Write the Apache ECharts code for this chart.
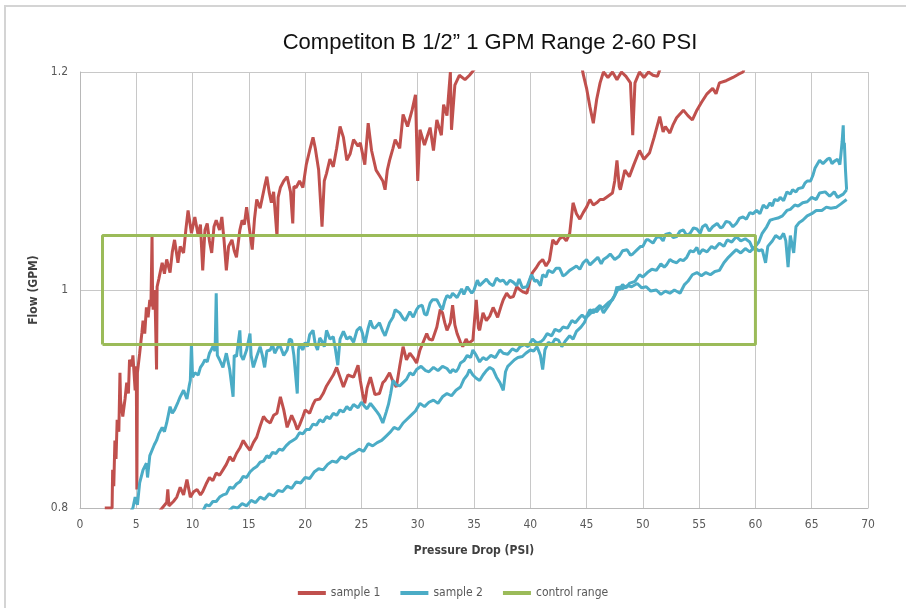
<!DOCTYPE html>
<html><head><meta charset="utf-8">
<script src="https://cdn.jsdelivr.net/npm/echarts@6/dist/echarts.min.js"></script>
<style>html,body{margin:0;padding:0;background:#fff}#c{width:906px;height:608px}</style>
</head><body><div id="c"></div>
<script>
const titleText = 'Competiton B 1/2\u201d 1 GPM Range 2-60 PSI';
const xName = 'Pressure Drop (PSI)';
const yName = 'Flow (GPM)';
const legendNames = ['sample 1', 'sample 2', 'control range'];
const xTicks = [0, 5, 10, 15, 20, 25, 30, 35, 40, 45, 50, 55, 60, 65, 70];
const yTicks = [0.8, 1, 1.2];

// sample 1, first (upper) pass – goes off the top of the chart and returns briefly
const s1Upper = [[2.2,0.8],[2.85,0.8],[2.9,0.835],[3.0,0.82],[3.1,0.862],[3.2,0.845],[3.3,0.881],[3.45,0.87],[3.55,0.924],[3.6,0.899],[3.8,0.884],[4.0,0.9],[4.15,0.915],[4.3,0.905],[4.4,0.936],[4.6,0.93],[4.7,0.94],[4.9,0.908],[5.0,0.93],[5.05,0.817],[5.1,0.924],[5.3,0.942],[5.5,0.961],[5.6,0.972],[5.75,0.96],[5.9,0.984],[6.05,0.975],[6.2,0.991],[6.3,0.985],[6.4,1.05],[6.45,0.99],[6.5,0.982],[6.65,1.0],[6.8,0.927],[6.85,1.003],[7.0,1.01],[7.3,1.025],[7.5,1.015],[7.7,1.028],[8.0,1.016],[8.2,1.035],[8.4,1.046],[8.7,1.025],[8.9,1.04],[9.2,1.034],[9.4,1.055],[9.6,1.073],[9.9,1.052],[10.2,1.067],[10.5,1.05],[10.7,1.06],[10.9,1.018],[11.1,1.055],[11.3,1.061],[11.5,1.045],[11.7,1.034],[11.9,1.058],[12.1,1.064],[12.4,1.055],[12.6,1.067],[12.8,1.045],[13.0,1.018],[13.2,1.04],[13.5,1.046],[13.7,1.036],[13.9,1.03],[14.2,1.055],[14.4,1.064],[14.6,1.06],[14.8,1.076],[15.0,1.06],[15.3,1.037],[15.5,1.065],[15.7,1.083],[16.0,1.075],[16.2,1.085],[16.4,1.095],[16.6,1.104],[16.8,1.09],[17.0,1.08],[17.2,1.09],[17.5,1.049],[17.6,1.085],[17.8,1.094],[18.1,1.1],[18.4,1.104],[18.7,1.09],[18.9,1.061],[19.0,1.095],[19.2,1.094],[19.5,1.1],[19.8,1.094],[20.1,1.115],[20.4,1.128],[20.7,1.14],[20.9,1.13],[21.2,1.11],[21.5,1.058],[21.7,1.1],[21.9,1.107],[22.2,1.12],[22.5,1.113],[22.8,1.13],[23.1,1.15],[23.4,1.14],[23.7,1.119],[24.0,1.125],[24.3,1.138],[24.7,1.132],[24.9,1.135],[25.3,1.115],[25.6,1.153],[25.9,1.128],[26.3,1.11],[26.6,1.105],[26.9,1.1],[27.1,1.092],[27.3,1.11],[27.5,1.119],[27.8,1.13],[28.0,1.138],[28.4,1.13],[28.7,1.161],[29.1,1.15],[29.5,1.165],[29.8,1.179],[30.0,1.1],[30.2,1.147],[30.6,1.133],[31.1,1.149],[31.4,1.128],[31.7,1.156],[32.1,1.142],[32.3,1.17],[32.6,1.16],[32.9,1.2],[33.0,1.147],[33.3,1.188],[33.7,1.197],[34.2,1.193],[34.6,1.197],[35.0,1.202],[35.3,1.21],[37,1.24],[40,1.27],[43,1.25],[44.4,1.215],[44.7,1.198],[45.0,1.185],[45.3,1.168],[45.6,1.153],[45.9,1.175],[46.2,1.19],[46.5,1.2],[46.9,1.195],[47.3,1.2],[47.7,1.193],[48.1,1.2],[48.5,1.196],[48.9,1.19],[49.1,1.142],[49.3,1.19],[49.7,1.2],[50.1,1.195],[50.5,1.2],[50.9,1.197],[51.3,1.196],[51.6,1.205],[52.5,1.23]];

// sample 1, second (lower) pass
const s1Lower = [[6.9,0.795],[7.3,0.8],[7.7,0.805],[7.8,0.817],[7.9,0.802],[8.3,0.806],[8.6,0.81],[8.9,0.819],[9.2,0.812],[9.5,0.826],[9.8,0.81],[10.1,0.815],[10.4,0.817],[10.7,0.812],[10.9,0.815],[11.2,0.822],[11.5,0.828],[11.8,0.825],[12.1,0.832],[12.4,0.83],[12.7,0.835],[13.0,0.84],[13.3,0.847],[13.6,0.843],[13.9,0.85],[14.2,0.855],[14.5,0.862],[14.8,0.857],[15.1,0.853],[15.4,0.86],[15.7,0.865],[16.0,0.875],[16.3,0.884],[16.6,0.88],[16.9,0.878],[17.2,0.885],[17.5,0.887],[17.8,0.902],[18.1,0.89],[18.4,0.874],[18.8,0.885],[19.1,0.878],[19.3,0.872],[19.5,0.876],[19.8,0.884],[20.0,0.89],[20.4,0.887],[20.7,0.895],[20.9,0.899],[21.3,0.9],[21.6,0.905],[21.9,0.912],[22.2,0.917],[22.5,0.922],[22.8,0.929],[23.1,0.92],[23.4,0.911],[23.8,0.922],[24.3,0.92],[24.7,0.931],[24.9,0.917],[25.1,0.905],[25.3,0.896],[25.5,0.91],[25.8,0.92],[26.2,0.904],[26.6,0.905],[26.9,0.915],[27.1,0.917],[27.5,0.924],[27.8,0.916],[28.1,0.911],[28.4,0.93],[28.7,0.948],[29.0,0.936],[29.3,0.942],[29.6,0.938],[29.9,0.933],[30.2,0.945],[30.4,0.95],[30.8,0.96],[31.0,0.955],[31.3,0.954],[31.7,0.966],[32.0,0.982],[32.2,0.979],[32.4,0.97],[32.6,0.963],[32.9,0.97],[33.1,0.986],[33.3,0.968],[33.5,0.96],[33.8,0.952],[34.0,0.948],[34.3,0.955],[34.5,0.951],[34.9,0.954],[35.2,0.991],[35.4,0.965],[35.5,0.963],[35.8,0.979],[36.1,0.972],[36.4,0.976],[36.7,0.984],[37.1,0.975],[37.4,0.985],[37.6,0.991],[37.9,0.997],[38.2,0.993],[38.5,0.994],[38.8,1.003],[39.1,1.0],[39.4,0.998],[39.7,0.997],[40.0,1.01],[40.2,1.016],[40.5,1.02],[40.8,1.025],[41.1,1.028],[41.4,1.022],[41.7,1.027],[42.0,1.046],[42.3,1.042],[42.6,1.047],[42.9,1.049],[43.2,1.045],[43.5,1.052],[43.8,1.08],[44.1,1.07],[44.4,1.065],[44.7,1.071],[45.0,1.076],[45.3,1.083],[45.6,1.078],[45.9,1.08],[46.2,1.083],[46.5,1.083],[46.9,1.086],[47.3,1.089],[47.5,1.1],[47.7,1.119],[47.9,1.095],[48.0,1.092],[48.4,1.11],[48.8,1.104],[49.2,1.115],[49.7,1.128],[50.1,1.12],[50.6,1.126],[51.0,1.14],[51.5,1.159],[51.8,1.145],[52.0,1.15],[52.4,1.144],[52.7,1.152],[53.0,1.158],[53.6,1.165],[54.0,1.16],[54.4,1.156],[54.8,1.165],[55.2,1.172],[55.7,1.18],[56.2,1.185],[56.5,1.18],[56.8,1.19],[57.4,1.192],[58.0,1.195],[58.5,1.198],[58.9,1.2],[59.4,1.215]];

// sample 2, rising pass from 5 PSI to 68 PSI
const s2Up = [[4.4,0.795],[4.7,0.8],[4.9,0.81],[5.1,0.803],[5.3,0.823],[5.6,0.835],[5.9,0.841],[6.0,0.828],[6.2,0.848],[6.4,0.853],[6.6,0.858],[6.8,0.862],[7.0,0.868],[7.3,0.874],[7.5,0.87],[7.7,0.878],[8.0,0.893],[8.2,0.887],[8.4,0.89],[8.7,0.897],[8.9,0.902],[9.2,0.908],[9.5,0.9],[9.7,0.912],[9.8,0.917],[9.9,0.951],[10.0,0.92],[10.2,0.924],[10.5,0.922],[10.7,0.929],[10.9,0.932],[11.1,0.936],[11.3,0.934],[11.5,0.942],[11.8,0.948],[12.0,0.944],[12.1,0.997],[12.2,0.94],[12.4,0.936],[12.7,0.929],[13.0,0.942],[13.3,0.927],[13.6,0.902],[13.7,0.94],[13.9,0.939],[14.2,0.963],[14.3,0.94],[14.5,0.936],[14.8,0.945],[15.1,0.96],[15.2,0.94],[15.4,0.929],[15.7,0.939],[16.0,0.948],[16.2,0.94],[16.4,0.929],[16.6,0.944],[16.9,0.945],[17.1,0.95],[17.3,0.942],[17.6,0.948],[17.8,0.948],[18.1,0.94],[18.4,0.945],[18.6,0.955],[18.8,0.954],[19.0,0.94],[19.3,0.905],[19.4,0.945],[19.5,0.95],[19.8,0.945],[20.0,0.952],[20.2,0.948],[20.4,0.959],[20.7,0.963],[20.9,0.95],[21.1,0.945],[21.3,0.956],[21.5,0.953],[21.7,0.948],[21.9,0.963],[22.2,0.955],[22.5,0.957],[22.7,0.945],[22.9,0.931],[23.1,0.955],[23.4,0.962],[23.7,0.955],[24.0,0.957],[24.3,0.952],[24.6,0.963],[24.9,0.966],[25.1,0.96],[25.3,0.95],[25.6,0.965],[25.8,0.972],[26.0,0.966],[26.2,0.965],[26.6,0.97],[26.9,0.962],[27.1,0.958],[27.5,0.97],[27.8,0.975],[28.0,0.982],[28.4,0.979],[28.7,0.974],[28.9,0.972],[29.3,0.98],[29.6,0.975],[29.9,0.982],[30.1,0.985],[30.4,0.986],[30.6,0.978],[30.8,0.977],[31.1,0.988],[31.3,0.991],[31.7,0.991],[32.0,0.985],[32.2,0.982],[32.4,0.99],[32.6,0.995],[32.9,0.993],[33.1,0.997],[33.5,0.993],[33.9,1.001],[34.1,0.996],[34.4,1.003],[34.8,0.997],[35.0,1.0],[35.3,1.009],[35.5,1.004],[35.8,1.007],[36.1,1.01],[36.4,1.006],[36.7,1.004],[37.0,1.011],[37.3,1.008],[37.6,1.009],[37.9,1.005],[38.2,1.009],[38.5,1.007],[38.8,1.004],[39.0,1.01],[39.3,1.002],[39.7,1.003],[40.1,1.014],[40.4,1.008],[40.6,1.009],[40.9,1.004],[41.1,1.014],[41.4,1.012],[41.6,1.018],[42.0,1.016],[42.3,1.02],[42.6,1.02],[42.9,1.013],[43.1,1.014],[43.5,1.018],[43.8,1.02],[44.1,1.022],[44.4,1.019],[44.7,1.025],[45.0,1.028],[45.3,1.023],[45.6,1.026],[46.0,1.03],[46.3,1.024],[46.5,1.028],[46.8,1.03],[47.1,1.033],[47.5,1.028],[47.9,1.031],[48.2,1.036],[48.6,1.037],[48.9,1.032],[49.1,1.033],[49.5,1.037],[49.8,1.04],[50.0,1.04],[50.3,1.046],[50.5,1.046],[50.9,1.043],[51.2,1.048],[51.5,1.049],[51.8,1.045],[52.0,1.051],[52.4,1.052],[52.7,1.048],[53.0,1.049],[53.3,1.054],[53.6,1.055],[53.9,1.05],[54.2,1.052],[54.5,1.057],[54.8,1.056],[55.1,1.052],[55.3,1.058],[55.6,1.06],[55.9,1.054],[56.2,1.058],[56.6,1.061],[56.9,1.057],[57.1,1.058],[57.4,1.063],[57.7,1.062],[58.0,1.058],[58.3,1.061],[58.6,1.066],[58.9,1.067],[59.2,1.065],[59.5,1.071],[59.8,1.07],[60.1,1.073],[60.4,1.07],[60.7,1.078],[61.0,1.075],[61.3,1.08],[61.5,1.077],[61.7,1.083],[62.0,1.082],[62.2,1.085],[62.5,1.082],[62.8,1.09],[63.1,1.088],[63.3,1.092],[63.6,1.09],[63.8,1.093],[64.2,1.094],[64.4,1.098],[64.6,1.1],[64.9,1.1],[65.1,1.105],[65.3,1.112],[65.4,1.113],[65.7,1.119],[66.0,1.116],[66.2,1.118],[66.4,1.12],[66.6,1.121],[66.8,1.116],[67.0,1.118],[67.3,1.12],[67.5,1.115],[67.6,1.125],[67.7,1.136],[67.8,1.151],[67.85,1.13],[67.9,1.135],[68.0,1.11],[68.1,1.092]];

// sample 2, falling pass back from 68 PSI
const s2Down = [[68.1,1.092],[67.8,1.088],[67.3,1.085],[67.0,1.09],[66.6,1.086],[66.2,1.09],[65.7,1.089],[65.4,1.083],[65.0,1.085],[64.6,1.081],[64.2,1.08],[63.8,1.077],[63.5,1.078],[63.1,1.074],[62.8,1.073],[62.4,1.068],[62.0,1.066],[61.6,1.065],[61.3,1.064],[61.0,1.058],[60.6,1.052],[60.3,1.044],[60.0,1.04],[59.8,1.037],[59.5,1.044],[59.1,1.047],[58.7,1.045],[58.3,1.049],[57.9,1.044],[57.5,1.046],[57.2,1.04],[56.8,1.043],[56.4,1.038],[56.1,1.04],[55.7,1.035],[55.3,1.037],[55.0,1.033],[54.8,1.039],[54.5,1.035],[54.2,1.036],[53.9,1.03],[53.6,1.027],[53.3,1.028],[53.0,1.025],[52.7,1.026],[52.4,1.028],[52.1,1.023],[51.9,1.021],[51.6,1.024],[51.2,1.018],[50.8,1.019],[50.4,1.016],[50.0,1.012],[49.7,1.014],[49.3,1.008],[48.8,1.006],[48.5,1.002],[48.2,1.005],[47.9,1.0],[47.7,1.003],[47.5,0.995],[47.2,0.99],[46.9,0.985],[46.5,0.979],[46.2,0.986],[45.9,0.983],[45.6,0.979],[45.3,0.982],[44.9,0.974],[44.6,0.977],[44.4,0.975],[44.0,0.97],[43.7,0.972],[43.3,0.965],[42.9,0.966],[42.6,0.962],[42.2,0.964],[41.9,0.958],[41.5,0.96],[41.2,0.955],[41.0,0.953],[40.6,0.951],[40.2,0.955],[39.8,0.948],[39.5,0.95],[39.1,0.948],[38.8,0.944],[38.4,0.946],[38.0,0.941],[37.6,0.942],[37.3,0.945],[36.9,0.938],[36.5,0.94],[36.1,0.936],[35.8,0.938],[35.5,0.934],[35.2,0.94],[34.9,0.945],[34.7,0.938],[34.4,0.94],[34.1,0.935],[33.8,0.933],[33.6,0.928],[33.4,0.925],[33.1,0.927],[32.9,0.924],[32.6,0.928],[32.2,0.93],[31.8,0.926],[31.4,0.929],[31.0,0.925],[30.7,0.926],[30.3,0.93],[29.9,0.927],[29.6,0.922],[29.3,0.924],[29.0,0.918],[28.7,0.915],[28.4,0.912],[28.1,0.913],[27.8,0.917],[27.6,0.905],[27.4,0.895],[27.2,0.888],[26.9,0.878],[26.6,0.885],[26.4,0.888],[26.1,0.892],[25.8,0.896],[25.5,0.891],[25.3,0.893],[25.0,0.897],[24.7,0.892],[24.3,0.895],[24.0,0.89],[23.7,0.893],[23.4,0.888],[23.1,0.89],[22.8,0.885],[22.5,0.887],[22.2,0.882],[21.9,0.884],[21.6,0.879],[21.3,0.881],[21.0,0.876],[20.7,0.877],[20.4,0.872],[20.1,0.872],[19.8,0.868],[19.5,0.869],[19.2,0.864],[18.9,0.862],[18.6,0.86],[18.3,0.857],[18.0,0.853],[17.7,0.854],[17.4,0.85],[17.1,0.851],[16.8,0.846],[16.6,0.848],[16.3,0.843],[16.0,0.842],[15.7,0.838],[15.4,0.836],[15.1,0.833],[14.8,0.828],[14.5,0.829],[14.2,0.824],[13.9,0.822],[13.6,0.818],[13.3,0.819],[13.0,0.813],[12.7,0.812],[12.4,0.81],[12.1,0.806],[11.8,0.806],[11.5,0.802],[11.2,0.803],[10.9,0.797]];

// sample 2, second rising pass (lowest on the left)
const s2Up2 = [[13.2,0.797],[13.6,0.801],[14.0,0.8],[14.4,0.804],[14.8,0.802],[15.2,0.807],[15.6,0.805],[16.0,0.81],[16.4,0.808],[16.8,0.813],[17.2,0.811],[17.6,0.816],[18.0,0.815],[18.4,0.82],[18.8,0.818],[19.2,0.824],[19.6,0.823],[20.0,0.828],[20.4,0.827],[20.8,0.833],[21.2,0.836],[21.6,0.835],[22.0,0.84],[22.4,0.843],[22.8,0.842],[23.2,0.847],[23.6,0.845],[24.0,0.849],[24.4,0.851],[24.8,0.854],[25.2,0.852],[25.6,0.859],[26.0,0.857],[26.4,0.86],[26.8,0.862],[27.2,0.866],[27.6,0.87],[27.9,0.874],[28.3,0.872],[28.7,0.878],[29.0,0.881],[29.4,0.885],[29.8,0.889],[30.2,0.896],[30.6,0.893],[31.0,0.897],[31.4,0.899],[31.8,0.896],[32.2,0.902],[32.6,0.905],[33.0,0.903],[33.4,0.908],[33.8,0.911],[34.1,0.918],[34.4,0.922],[34.6,0.927],[34.9,0.922],[35.2,0.919],[35.5,0.917],[35.8,0.922],[36.1,0.926],[36.4,0.929],[36.7,0.927],[37.0,0.92],[37.3,0.915],[37.6,0.908],[37.8,0.925],[38.0,0.93],[38.3,0.933],[38.6,0.936],[38.9,0.938],[39.3,0.939],[39.6,0.942],[40.0,0.945],[40.3,0.944],[40.6,0.948],[40.9,0.94],[41.1,0.927],[41.3,0.945],[41.6,0.952],[41.9,0.95],[42.2,0.955],[42.5,0.954],[42.8,0.948],[43.1,0.953],[43.5,0.958],[43.8,0.955],[44.1,0.962],[44.5,0.966],[44.8,0.97],[45.0,0.975],[45.3,0.978],[45.6,0.982],[45.9,0.98],[46.2,0.984],[46.5,0.984],[46.9,0.988],[47.3,0.991],[47.6,0.997],[47.9,1.003],[48.2,1.001],[48.6,1.004],[49.0,1.003],[49.5,1.006],[49.9,1.002],[50.3,1.003],[50.7,0.999],[51.2,1.0],[51.6,0.996],[52.0,0.999],[52.4,0.997],[52.8,1.0],[53.3,0.997],[53.7,1.005],[54.0,1.008],[54.4,1.014],[54.8,1.016],[55.2,1.013],[55.6,1.016],[56.0,1.014],[56.4,1.017],[56.8,1.018],[57.2,1.025],[57.6,1.03],[58.0,1.034],[58.3,1.037],[58.7,1.034],[59.1,1.038],[59.5,1.035],[59.9,1.039],[60.3,1.036],[60.6,1.037],[60.9,1.025],[61.1,1.04],[61.5,1.045],[61.8,1.05],[62.2,1.047],[62.5,1.052],[62.7,1.045],[62.9,1.021],[63.1,1.05],[63.4,1.034],[63.6,1.058],[63.9,1.062],[64.2,1.064],[64.6,1.068],[65.0,1.07],[65.4,1.073],[65.9,1.073],[66.3,1.076],[66.7,1.075],[67.2,1.076],[67.6,1.079],[68.1,1.083]];

// control range rectangle: 2–60 PSI, 0.95–1.05 GPM
const controlRange = [[2,0.95],[2,1.05],[60,1.05],[60,0.95],[2,0.95]];

const RED = '#C0504D', BLUE = '#4BACC6', GREEN = '#9BBB59';
const labelFont = "'Liberation Sans Narrow','DejaVu Sans Condensed','Roboto',sans-serif";

function lineSeries(name, data, color, z) {
  return { name: name, type: 'line', data: data, showSymbol: false, symbol: 'none',
    lineStyle: { color: color, width: 3 }, itemStyle: { color: color },
    clip: true, z: z, animation: false };
}

const chart = echarts.init(document.getElementById('c'), null, { renderer: 'canvas' });
chart.setOption({
  animation: false,
  backgroundColor: '#ffffff',
  graphic: [{ type: 'rect', shape: { x: 5, y: 6, width: 1000, height: 800 },
    style: { fill: 'none', stroke: '#d4d4d4', lineWidth: 2 }, silent: true, z: -10 }],
  title: { text: titleText, left: 485, top: 27, textAlign: 'center',
    textStyle: { fontFamily: "'Liberation Sans',Arial,sans-serif", fontSize: 22, fontWeight: 'normal', color: '#111' } },
  grid: { left: 80, right: 38, top: 72, bottom: 100, containLabel: false },
  legend: { data: legendNames, bottom: 4, left: 'center', icon: 'rect', itemWidth: 28, itemHeight: 4,
    itemGap: 20, textStyle: { fontFamily: labelFont, fontSize: 12, color: '#595959' } },
  xAxis: { type: 'value', min: xTicks[0], max: xTicks[xTicks.length - 1], interval: 5,
    name: xName, nameLocation: 'middle', nameGap: 37,
    nameTextStyle: { fontFamily: labelFont, fontSize: 12, fontWeight: 'bold', color: '#404040' },
    axisLine: { show: true, lineStyle: { color: '#b8b8b8', width: 1 } },
    axisTick: { show: false },
    axisLabel: { margin: 11, fontFamily: labelFont, fontSize: 12, color: '#595959' },
    splitLine: { show: true, lineStyle: { color: '#c8c8c8', width: 1 } } },
  yAxis: { type: 'value', min: yTicks[0], max: yTicks[yTicks.length - 1], interval: 0.2,
    name: yName, nameLocation: 'middle', nameGap: 40,
    nameTextStyle: { fontFamily: labelFont, fontSize: 12, fontWeight: 'bold', color: '#404040' },
    axisLine: { show: true, lineStyle: { color: '#b8b8b8', width: 1 } },
    axisTick: { show: false },
    axisLabel: { margin: 12, fontFamily: labelFont, fontSize: 12, color: '#595959',
      formatter: function (v) { return String(+v.toFixed(1)); } },
    splitLine: { show: true, lineStyle: { color: '#c8c8c8', width: 1 } } },
  series: [
    lineSeries('sample 1', s1Upper, RED, 2),
    lineSeries('sample 1', s1Lower, RED, 2),
    lineSeries('sample 2', s2Up, BLUE, 3),
    lineSeries('sample 2', s2Down, BLUE, 3),
    lineSeries('sample 2', s2Up2, BLUE, 3),
    lineSeries('control range', controlRange, GREEN, 4)
  ]
});
</script></body></html>
